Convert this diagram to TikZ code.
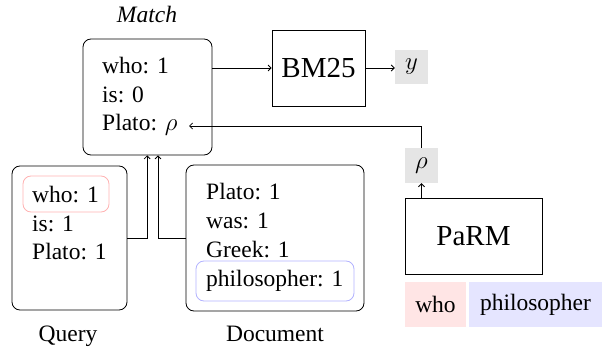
\documentclass[tikz,border=0pt]{standalone}
\usepackage{fontspec}
\setmainfont{Liberation Serif}
\usetikzlibrary{arrows.meta,calc}
\begin{document}
\begin{tikzpicture}[x=1pt,y=-1pt,
  lw/.style={line width=0.8pt},
  rbox/.style={lw,draw,rounded corners=8pt,inner sep=0},
  sqbox/.style={lw,draw,inner sep=0,font=\fontsize{29}{34}\selectfont},
  txt/.style={anchor=base west,inner sep=0,font=\fontsize{23.5}{28}\selectfont},
  lbl/.style={anchor=base,inner sep=0,font=\fontsize{23.5}{28}\selectfont},
  graybox/.style={fill=black!10,inner sep=0,font=\fontsize{23.5}{28}\selectfont},
  arr/.style={lw,-{Straight Barb[length=3pt,width=6pt]}}]
\useasboundingbox (0,0) rectangle (608,350);
% Match
\node[rbox,minimum width=129pt,minimum height=116pt] (match) at (147.5,97) {};
\node[lbl,font=\fontsize{23.5}{28}\selectfont\itshape] (matchlbl) at (147,23) {Match};
\node[txt] (m1) at (102,74) {who: 1};
\node[txt] (m2) at (102,103) {is: 0};
\node[txt] (m3) at (102,131) {Plato: $\rho$};
% BM25 and y
\node[sqbox,minimum width=93pt,minimum height=76pt] (bm) at (318.5,68) {BM25};
\node[graybox,minimum width=33pt,minimum height=34pt] (y) at (411.5,67) {$y$};
% PaRM and rho
\node[sqbox,minimum width=137pt,minimum height=76pt] (parm) at (473.5,236) {PaRM};
\node[graybox,minimum width=33pt,minimum height=35pt] (rho) at (421.5,165.5) {$\rho$};
\node[graybox,fill=red!10,minimum width=61pt,minimum height=45pt] (who) at (435.5,304.5) {who};
\node[graybox,fill=blue!10,minimum width=133pt,minimum height=45pt] (phil) at (535.5,304.5) {philosopher};
% Query
\node[rbox,minimum width=115pt,minimum height=144pt] (query) at (69.5,238) {};
\node[rbox,draw=red!30,minimum width=86pt,minimum height=36pt] (qhl) at (66,194) {};
\node[txt] (q1) at (32,202) {who: 1};
\node[txt] (q2) at (32,231) {is: 1};
\node[txt] (q3) at (32,259) {Plato: 1};
\node[lbl] (qlbl) at (68,341) {Query};
% Document
\node[rbox,minimum width=178pt,minimum height=146pt] (doc) at (275,238) {};
\node[rbox,draw=blue!30,minimum width=158pt,minimum height=40pt] (dhl) at (275,281) {};
\node[txt] (d1) at (206,200) {Plato: 1};
\node[txt] (d2) at (206,229) {was: 1};
\node[txt] (d3) at (206,257) {Greek: 1};
\node[txt] (d4) at (206,286) {philosopher: 1};
\node[lbl] (dlbl) at (275,341) {Document};
% connectors
\coordinate (mq) at ($(match.south)+(-0.3,0)$);
\coordinate (md) at ($(match.south)+(10.5,0)$);
\coordinate (pin) at (189,126);
\draw[arr] (match.east |- bm.west) -- (bm.west);
\draw[arr] (bm.east) -- (bm.east -| y.west);
\draw[arr] (rho.south |- parm.north) -- (rho.south);
\draw[arr] (rho.north) |- (pin);
\draw[arr] (query.east) -| (mq);
\draw[arr] (doc.west) -| (md);
\end{tikzpicture}
\end{document}
